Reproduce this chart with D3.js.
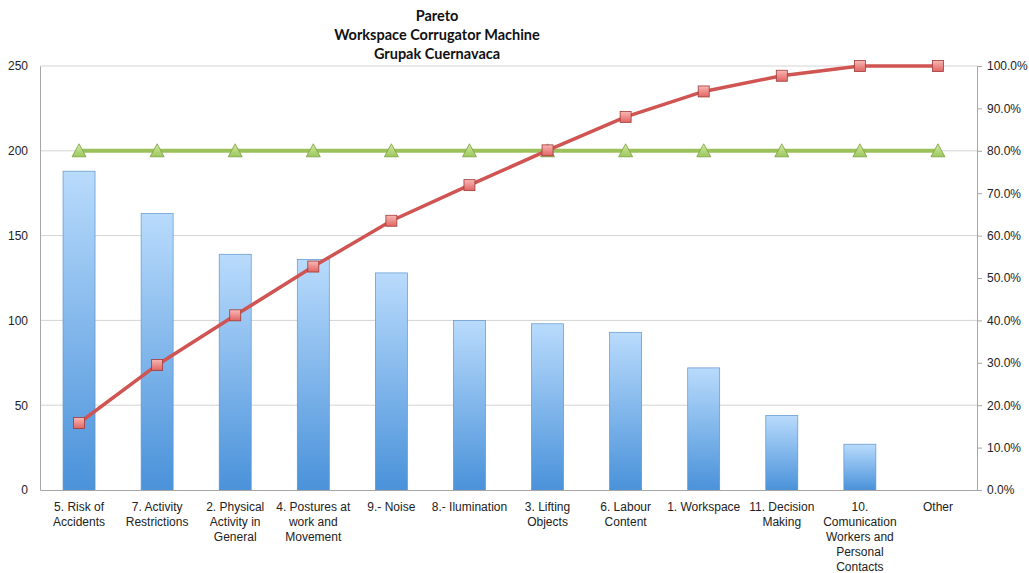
<!DOCTYPE html>
<html>
<head>
<meta charset="utf-8">
<script src="https://cdn.jsdelivr.net/npm/d3@7"></script>
<style>
  body { margin: 0; background: #fff; }
  svg { font-family: Lato, "Open Sans", sans-serif; }
  .axis text { font-size: 12px; fill: #222; }
  .axis path, .axis line { stroke: #a6a6a6; }
</style>
</head>
<body>
<div id="chart"></div>
<script>
// chart data
const categories = [
  "5. Risk of\nAccidents", "7. Activity\nRestrictions", "2. Physical\nActivity in\nGeneral",
  "4. Postures at\nwork and\nMovement", "9.- Noise", "8.- Ilumination", "3. Lifting\nObjects",
  "6. Labour\nContent", "1. Workspace", "11. Decision\nMaking",
  "10.\nComunication\nWorkers and\nPersonal\nContacts", "Other"
];
const counts = [188, 163, 139, 136, 128, 100, 98, 93, 72, 44, 27, 0];
const cumulativePct = [15.8, 29.5, 41.2, 52.7, 63.5, 71.9, 80.1, 88.0, 94.0, 97.7, 100, 100];
const thresholdPct = [80, 80, 80, 80, 80, 80, 80, 80, 80, 80, 80, 80];
const leftTicks = [0, 50, 100, 150, 200, 250];
const rightTicks = [0, 10, 20, 30, 40, 50, 60, 70, 80, 90, 100];
const titleLines = ["Pareto", "Workspace Corrugator Machine", "Grupak Cuernavaca"];

const W = 1029, H = 573;
const margin = { top: 66, right: 52, bottom: 83, left: 40 };
const width = W - margin.left - margin.right;
const height = H - margin.top - margin.bottom;

const root = d3.select("#chart").append("svg")
  .attr("width", W).attr("height", H);

const defs = root.append("defs");
const grad = defs.append("linearGradient").attr("id", "barGrad")
  .attr("x1", 0).attr("y1", 0).attr("x2", 0).attr("y2", 1);
grad.append("stop").attr("offset", "0%").attr("stop-color", "#b9dbfc");
grad.append("stop").attr("offset", "100%").attr("stop-color", "#4a92da");
const sqGrad = defs.append("linearGradient").attr("id", "sqGrad")
  .attr("x1", 0).attr("y1", 0).attr("x2", 0).attr("y2", 1);
sqGrad.append("stop").attr("offset", "0%").attr("stop-color", "#f8b8b6");
sqGrad.append("stop").attr("offset", "100%").attr("stop-color", "#e06562");
const triGrad = defs.append("linearGradient").attr("id", "triGrad")
  .attr("x1", 0).attr("y1", 0).attr("x2", 0).attr("y2", 1);
triGrad.append("stop").attr("offset", "0%").attr("stop-color", "#d2eaa6");
triGrad.append("stop").attr("offset", "100%").attr("stop-color", "#9cc75c");

// title
root.append("g").selectAll("text")
  .data(titleLines).join("text")
  .attr("x", 437).attr("y", (d, i) => 21 + i * 19)
  .attr("text-anchor", "middle")
  .style("font-size", "14.5px").style("font-weight", "bold").style("fill", "#111")
  .text(d => d);

const svg = root.append("g").attr("transform", `translate(${margin.left},${margin.top})`);

const x = d3.scaleBand().domain(categories).range([0, width]);
const yL = d3.scaleLinear().domain([0, 250]).range([height, 0]);
const yR = d3.scaleLinear().domain([0, 100]).range([height, 0]);

// gridlines
svg.append("g").selectAll("line")
  .data(leftTicks.slice(1)).join("line")
  .attr("x1", 0).attr("x2", width)
  .attr("y1", d => yL(d)).attr("y2", d => yL(d))
  .attr("stroke", "#d4d4d4");

// left axis
const axL = svg.append("g").attr("class", "axis")
  .call(d3.axisLeft(yL).tickValues(leftTicks).tickSize(0).tickPadding(10));
axL.select(".domain").attr("stroke", "#a6a6a6");
axL.selectAll("text").attr("x", -12);

// right axis
const axR = svg.append("g").attr("class", "axis")
  .attr("transform", `translate(${width},0)`)
  .call(d3.axisRight(yR).tickValues(rightTicks).tickSize(5).tickPadding(5)
    .tickFormat(d => d.toFixed(1) + "%").tickSizeOuter(0));

// bars
const barW = 32;
svg.append("g").selectAll("rect")
  .data(counts).join("rect")
  .attr("x", (d, i) => x(categories[i]) + x.bandwidth() / 2 - barW / 2)
  .attr("y", d => yL(d))
  .attr("width", barW)
  .attr("height", d => height - yL(d))
  .attr("fill", "url(#barGrad)")
  .attr("stroke", d => d > 0 ? "#5d95cc" : "none")
  .attr("stroke-width", 0.7);

// bottom axis
const axB = svg.append("g").attr("class", "axis")
  .attr("transform", `translate(0,${height})`)
  .call(d3.axisBottom(x).tickSize(0).tickSizeOuter(0).tickFormat(""));
axB.selectAll(".tick").each(function(d) {
  const t = d3.select(this).append("text")
    .attr("text-anchor", "middle").attr("fill", "#222")
    .style("font-size", "12px");
  d.split("\n").forEach((line, i) => {
    t.append("tspan").attr("x", 0).attr("y", 21 + i * 15).text(line);
  });
});

const cx = i => x(categories[i]) + x.bandwidth() / 2;

// 80% line
svg.append("path")
  .datum(thresholdPct)
  .attr("fill", "none").attr("stroke", "#9bc15a").attr("stroke-width", 4)
  .attr("d", d3.line().x((d, i) => cx(i)).y(d => yR(d)));

// cumulative line
svg.append("path")
  .datum(cumulativePct)
  .attr("fill", "none").attr("stroke", "#cf5452").attr("stroke-width", 3.5)
  .attr("d", d3.line().x((d, i) => cx(i)).y(d => yR(d)));

// triangle markers
svg.append("g").selectAll("path")
  .data(thresholdPct).join("path")
  .attr("transform", (d, i) => `translate(${cx(i)},${yR(d)})`)
  .attr("d", "M0,-7 L7,6 L-7,6 Z")
  .attr("fill", "url(#triGrad)").attr("stroke", "#7aa03e").attr("stroke-width", 0.8);

// square markers
svg.append("g").selectAll("rect")
  .data(cumulativePct).join("rect")
  .attr("x", (d, i) => cx(i) - 5.5).attr("y", d => yR(d) - 5.5)
  .attr("width", 11).attr("height", 11)
  .attr("fill", "url(#sqGrad)").attr("stroke", "#9e3a38").attr("stroke-width", 0.8);
</script>
</body>
</html>
